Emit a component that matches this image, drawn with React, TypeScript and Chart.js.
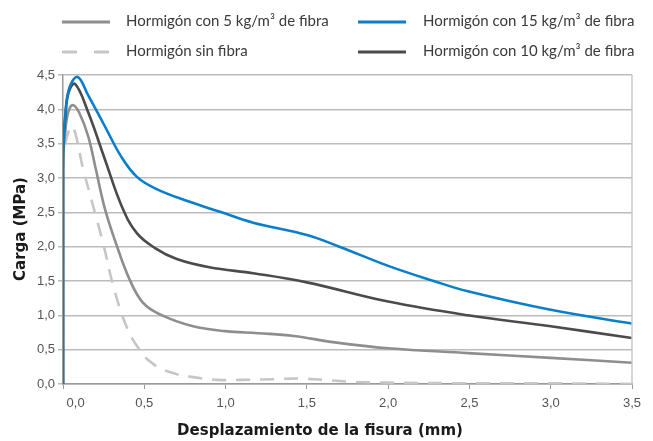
import { useEffect, useRef } from 'react';
import { Chart, registerables } from 'chart.js';

Chart.register(...registerables);

// ---- data (x: crack displacement in mm, y: load in MPa) ----
const xTickValues = [0, 0.5, 1.0, 1.5, 2.0, 2.5, 3.0, 3.5];
const yTickValues = [0, 0.5, 1.0, 1.5, 2.0, 2.5, 3.0, 3.5, 4.0, 4.5];

const seriesLabels = [
  'Hormigón con 5 kg/m³ de fibra',
  'Hormigón con 15 kg/m³ de fibra',
  'Hormigón sin fibra',
  'Hormigón con 10 kg/m³ de fibra',
];

const fibra5X = [0, 0, 0.015, 0.035, 0.063, 0.1, 0.156, 0.2, 0.258, 0.33, 0.41, 0.49, 0.6, 0.8, 1.0, 1.2, 1.42, 1.66, 2.0, 2.49, 3.0, 3.5];
const fibra5Y = [0, 3.2, 3.7, 3.98, 4.06, 3.95, 3.6, 3.15, 2.55, 2.02, 1.52, 1.19, 1.01, 0.84, 0.77, 0.74, 0.7, 0.61, 0.52, 0.45, 0.38, 0.31];

const fibra15X = [0, 0, 0.015, 0.04, 0.09, 0.156, 0.258, 0.361, 0.453, 0.566, 0.77, 0.976, 1.17, 1.5, 1.7, 2.0, 2.28, 2.49, 3.0, 3.5];
const fibra15Y = [0, 3.3, 3.95, 4.32, 4.47, 4.2, 3.75, 3.3, 3.02, 2.85, 2.66, 2.5, 2.35, 2.17, 2.0, 1.72, 1.5, 1.35, 1.08, 0.88];

const sinFibraX = [0, 0, 0.015, 0.057, 0.125, 0.197, 0.25, 0.31, 0.39, 0.47, 0.55, 0.66, 0.8, 0.95, 1.1, 1.3, 1.45, 1.6, 1.8, 2.0, 2.5, 3.0, 3.5];
const sinFibraY = [0, 3.0, 3.5, 3.75, 3.12, 2.49, 2.02, 1.42, 0.84, 0.5, 0.3, 0.17, 0.1, 0.06, 0.06, 0.07, 0.08, 0.06, 0.03, 0.02, 0.01, 0.01, 0.0];

const fibra10X = [0, 0, 0.015, 0.035, 0.074, 0.156, 0.258, 0.361, 0.453, 0.566, 0.7, 0.9, 1.18, 1.5, 2.0, 2.49, 3.0, 3.5];
const fibra10Y = [0, 3.3, 3.9, 4.25, 4.37, 3.95, 3.27, 2.59, 2.2, 1.98, 1.82, 1.7, 1.61, 1.48, 1.2, 1.0, 0.84, 0.67];

const xTitle = 'Desplazamiento de la fisura (mm)';
const yTitle = 'Carga (MPa)';

const colors = ['#8e8e90', '#0a7fc9', '#c6c6c8', '#4b4b4d'];
const dashes: number[][] = [[], [], [14, 10], []];

const toPoints = (xs: number[], ys: number[]) => xs.map((x, i) => ({ x, y: ys[i] }));
const fmt = (v: number) => v.toFixed(1).replace('.', ',');

const legendPos = [
  { lx: 62, tx: 126, y: 21 },
  { lx: 358, tx: 423, y: 21 },
  { lx: 62, tx: 126, y: 51 },
  { lx: 358, tx: 423, y: 51 },
];

const decorPlugin = {
  id: 'decor',
  afterDraw(chart: any) {
    const ctx = chart.ctx as CanvasRenderingContext2D;
    const area = chart.chartArea;
    ctx.save();
    // right border of plot
    ctx.strokeStyle = '#c8c8c8';
    ctx.lineWidth = 1.5;
    ctx.beginPath();
    ctx.moveTo(area.right, area.top);
    ctx.lineTo(area.right, area.bottom);
    ctx.stroke();

    // legend
    ctx.font = '15px Lato';
    ctx.textBaseline = 'middle';
    ctx.textAlign = 'left';
    seriesLabels.forEach((label, i) => {
      const p = legendPos[i];
      ctx.strokeStyle = colors[i];
      ctx.lineWidth = 3;
      ctx.setLineDash(i === 2 ? [15, 17] : []);
      ctx.beginPath();
      ctx.moveTo(p.lx, p.y + 1);
      ctx.lineTo(p.lx + 48, p.y + 1);
      ctx.stroke();
      ctx.setLineDash([]);
      ctx.fillStyle = '#3a3a3a';
      ctx.fillText(label, p.tx, p.y);
    });

    // axis titles
    ctx.fillStyle = '#1a1a1a';
    ctx.font = 'bold 15px "DejaVu Sans"';
    ctx.textAlign = 'center';
    ctx.textBaseline = 'middle';
    ctx.fillText(xTitle, 320, 431);
    ctx.translate(21, 229);
    ctx.rotate(-Math.PI / 2);
    ctx.fillText(yTitle, 0, 0);
    ctx.restore();
  },
};

export default function App() {
  const ref = useRef<HTMLCanvasElement>(null);
  useEffect(() => {
    if (!ref.current) return;
    const series = [
      { label: seriesLabels[1], data: toPoints(fibra15X, fibra15Y), color: colors[1], dash: dashes[1], order: 0 },
      { label: seriesLabels[3], data: toPoints(fibra10X, fibra10Y), color: colors[3], dash: dashes[3], order: 1 },
      { label: seriesLabels[0], data: toPoints(fibra5X, fibra5Y), color: colors[0], dash: dashes[0], order: 2 },
      { label: seriesLabels[2], data: toPoints(sinFibraX, sinFibraY), color: colors[2], dash: dashes[2], order: 3 },
    ];
    const chart = new Chart(ref.current, {
      type: 'line',
      data: {
        datasets: series.map((s) => ({
          label: s.label,
          data: s.data,
          borderColor: s.color,
          backgroundColor: s.color,
          borderWidth: 2.6,
          borderDash: s.dash,
          pointRadius: 0,
          tension: 0.4,
          fill: false,
          order: s.order,
        })),
      },
      options: {
        animation: false,
        responsive: false,
        layout: { padding: { top: 75, right: 21, left: 0, bottom: 0 } },
        plugins: { legend: { display: false }, tooltip: { enabled: false } },
        scales: {
          x: {
            type: 'linear',
            min: 0,
            max: 3.5,
            afterBuildTicks: (s: any) => {
              s.ticks = xTickValues.map((v) => ({ value: v }));
            },
            afterFit: (s: any) => {
              s.height = 57;
            },
            ticks: {
              autoSkip: false,
              maxRotation: 0,
              padding: 7,
              color: '#555',
              font: { family: 'Liberation Sans', size: 13 },
              callback: (v: any) => (Number(v) === 0 ? '       ' + fmt(0) : fmt(Number(v))),
            },
            grid: { drawOnChartArea: false, drawTicks: true, tickLength: 5, color: '#9a9a9a', lineWidth: 1 },
            border: { color: '#9a9a9a', width: 1.5 },
          },
          y: {
            type: 'linear',
            min: 0,
            max: 4.5,
            afterBuildTicks: (s: any) => {
              s.ticks = yTickValues.map((v) => ({ value: v }));
            },
            afterFit: (s: any) => {
              s.width = 63;
            },
            ticks: {
              autoSkip: false,
              padding: 3,
              color: '#555',
              font: { family: 'Liberation Sans', size: 13 },
              callback: (v: any) => fmt(Number(v)),
            },
            grid: { color: '#bcbcbc', lineWidth: 1.5, tickLength: 5 },
            border: { color: '#9a9a9a', width: 1.5 },
          },
        },
      },
      plugins: [decorPlugin],
    });
    return () => chart.destroy();
  }, []);
  return (
    <div style={{ position: 'absolute', left: 0, top: 0, width: 653, height: 441, background: '#fff' }}>
      <canvas ref={ref} width={653} height={441} />
    </div>
  );
}
